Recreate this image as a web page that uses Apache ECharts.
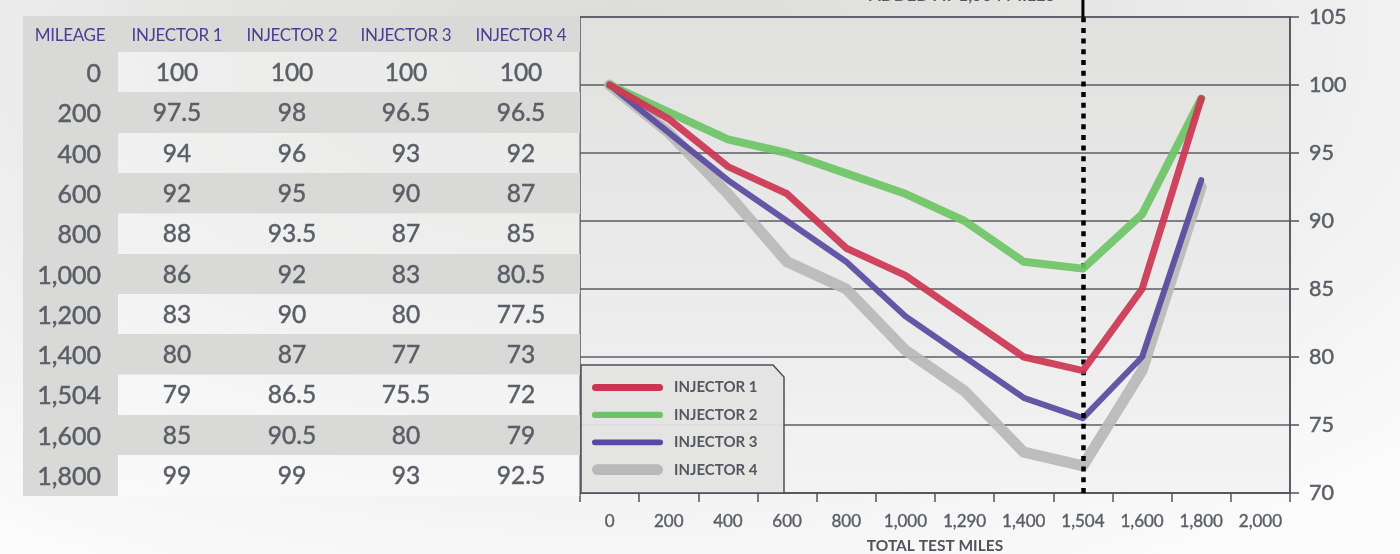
<!DOCTYPE html>
<html>
<head>
<meta charset="utf-8">
<script src="https://cdn.jsdelivr.net/npm/echarts@6/dist/echarts.min.js"></script>
<style>
  html, body { margin:0; padding:0; }
  body {
    width:1400px; height:554px; overflow:hidden; position:relative;
    background: radial-gradient(ellipse 1100px 600px at 620px 40px, #dcdddb 0%, #e3e4e2 35%, #f1f1f1 70%, #fbfbfb 100%);
    font-family: Lato, "Noto Sans", sans-serif;
  }
  #chart { position:absolute; left:0; top:0; width:1400px; height:554px; }
  #table { position:absolute; left:0; top:0; width:600px; height:554px; pointer-events:none; }
  .cell { position:absolute; box-sizing:border-box; }
  .txt { position:absolute; white-space:nowrap; }
  .num { -webkit-text-stroke: 0.5px #5a5f66; }
</style>
</head>
<body>
<div id="chart"></div>
<div id="table"></div>
<script>
// ---- data ----
const xLabels = ['0','200','400','600','800','1,000','1,290','1,400','1,504','1,600','1,800','2,000'];
const mileage = ['0','200','400','600','800','1,000','1,200','1,400','1,504','1,600','1,800'];
const injector1 = [100, 97.5, 94, 92, 88, 86, 83, 80, 79, 85, 99];
const injector2 = [100, 98, 96, 95, 93.5, 92, 90, 87, 86.5, 90.5, 99];
const injector3 = [100, 96.5, 93, 90, 87, 83, 80, 77, 75.5, 80, 93];
const injector4 = [100, 96.5, 92, 87, 85, 80.5, 77.5, 73, 72, 79, 92.5];
const seriesNames = ['INJECTOR 1','INJECTOR 2','INJECTOR 3','INJECTOR 4'];
const tableHeaders = ['MILEAGE','INJECTOR 1','INJECTOR 2','INJECTOR 3','INJECTOR 4'];
const markerMile = '1,504';
const markerText = 'ADDED AT 1,504 MILES';
const yAxisTitle = 'INJECTOR FLOW';
const xAxisTitle = 'TOTAL TEST MILES';
const yMin = 70, yMax = 105, yStep = 5;

// ---- table (HTML) ----
(function buildTable(){
  const t = document.getElementById('table');
  const left = 23, right = 580, mileRight = 118, headTop = 16, headH = 36, rowH = 40.3;
  const colCenters = [177, 292, 406, 521];
  const grey = '#d9d9d7';
  const cols = [injector1, injector2, injector3, injector4];
  let html = '';
  html += `<div class="cell" style="left:${left}px;top:${headTop}px;width:${right-left}px;height:${headH}px;background:${grey}"></div>`;
  const headCenters = [70].concat(colCenters);
  tableHeaders.forEach((h,i)=>{
    html += `<div class="txt" style="left:${headCenters[i]-60}px;width:120px;text-align:center;top:${headTop}px;line-height:${headH+1}px;font-size:17px;color:#4b3d92;letter-spacing:-0.3px">${h}</div>`;
  });
  mileage.forEach((m,r)=>{
    const top = headTop + headH + r*rowH;
    html += `<div class="cell" style="left:${left}px;top:${top}px;width:${mileRight-left}px;height:${rowH+0.5}px;background:${grey}"></div>`;
    const bg = (r%2===1) ? grey : 'rgba(255,255,255,0.35)';
    html += `<div class="cell" style="left:${mileRight}px;top:${top}px;width:${right-mileRight}px;height:${rowH+0.5}px;background:${bg}"></div>`;
    html += `<div class="txt num" style="left:0px;width:101px;text-align:right;top:${top}px;line-height:${rowH}px;font-size:25px;color:#5a5f66">${m}</div>`;
    cols.forEach((c,ci)=>{
      html += `<div class="txt num" style="left:${colCenters[ci]-60}px;width:120px;text-align:center;top:${top}px;line-height:${rowH}px;font-size:24.5px;color:#5a5f66">${c[r]}</div>`;
    });
  });
  t.innerHTML = html;
})();

// ---- chart ----
const colors = ['#cc3551', '#6cc465', '#5a4a9f', '#b8b9b9'];
const widths = [7, 8, 6, 11];
const zs = [6, 5, 4, 3];
const datas = [injector1, injector2, injector3, injector4];
function pill(h){
  const w = 71, r = h/2;
  return `path://M${r},0H${w-r}A${r},${r},0,0,1,${w-r},${h}H${r}A${r},${r},0,0,1,${r},0Z`;
}
const iconHeights = [7, 6.3, 5.7, 10.7];

const chart = echarts.init(document.getElementById('chart'), null, {renderer:'canvas'});
const axisColor = '#51545b';
const labelColor = '#5a5f66';
const option = {
  animation: false,
  backgroundColor: 'transparent',
  textStyle: { fontFamily: 'Lato, "Noto Sans", sans-serif' },
  grid: {
    left: 580, right: 110, top: 17, bottom: 61,
    outerBoundsMode: 'none',
    containLabel: false,
    show: true,
    backgroundColor: new echarts.graphic.LinearGradient(0,0,0,1,[
      {offset:0, color:'#e0e1df'}, {offset:1, color:'#f3f3f3'}
    ]),
    borderColor: axisColor, borderWidth: 1.5
  },
  legend: {
    orient: 'vertical',
    left: 587, top: 375,
    itemWidth: 71, itemHeight: 11, itemGap: 12.4,
    symbolKeepAspect: true,
    itemStyle: { borderWidth: 0 },
    textStyle: { fontSize: 15, color: '#53575f', fontWeight: 'bold', padding: [0,0,0,6] },
    data: seriesNames.map((n,i)=>({ name:n, icon: pill(iconHeights[i]) })),
    z: 20
  },
  xAxis: {
    type: 'category',
    data: xLabels,
    boundaryGap: true,
    axisLine: { lineStyle: { color: axisColor, width: 1.5 } },
    axisTick: { show: true, length: 9, lineStyle: { color: axisColor, width: 1.5 } },
    axisLabel: { interval: 0, fontSize: 17, color: labelColor, margin: 20, textBorderColor: labelColor, textBorderWidth: 0.4 },
    splitLine: { show: false },
    name: xAxisTitle,
    nameLocation: 'middle',
    nameGap: 45,
    nameTextStyle: { fontSize: 15.5, color: '#50545b', fontWeight: 'bold' }
  },
  yAxis: {
    type: 'value',
    position: 'right',
    min: yMin, max: yMax, interval: yStep,
    axisLine: { show: true, lineStyle: { color: axisColor, width: 1.5 } },
    axisTick: { show: true, length: 9, lineStyle: { color: axisColor, width: 1.5 } },
    axisLabel: { fontSize: 21.5, color: labelColor, margin: 19, textBorderColor: labelColor, textBorderWidth: 0.5 },
    splitLine: { show: true, lineStyle: { color: '#5a5d64', width: 1.5 } }
  },
  series: seriesNames.map((n,i)=>({
    name: n,
    type: 'line',
    data: datas[i],
    symbol: 'none',
    z: zs[i],
    itemStyle: { color: colors[i] },
    lineStyle: { color: colors[i], width: widths[i], cap: 'round', join: 'round', opacity: 0.92 }
  })).concat([{
    name: 'marker',
    type: 'line',
    data: [],
    z: 10,
    markLine: {
      silent: true,
      symbol: ['none','none'],
      label: { show: false },
      lineStyle: { color: '#000', width: 4.5, type: [5, 5.7], cap: 'butt' },
      data: [{ xAxis: markerMile }]
    }
  }])
};
chart.setOption(option);

const mx = chart.convertToPixel({xAxisIndex:0}, markerMile);
const gridTop = chart.convertToPixel({yAxisIndex:0}, yMax);
chart.setOption({
  graphic: [
    { type:'polygon', z: 15,
      shape: { points: [[581,365],[773,365],[784,377],[784,493],[581,493]] },
      style: { fill: 'rgba(227,228,226,0.93)', stroke: '#4d5058', lineWidth: 1.5 } },
    { type:'line', z: 12,
      shape: { x1: mx, y1: 0, x2: mx, y2: gridTop },
      style: { stroke: '#000', lineWidth: 3 } },
    { type:'text', z: 12, x: mx - 28, y: 4,
      style: { text: markerText, align: 'right', verticalAlign: 'bottom', fontSize: 17, fontWeight: 'bold', fill: '#55595f', fontFamily: 'Lato, sans-serif' } },
    { type:'text', z: 12, x: 1376, y: 3,
      style: { text: yAxisTitle, align: 'right', verticalAlign: 'bottom', fontSize: 14.5, fontWeight: 'bold', fill: '#55595f', fontFamily: 'Lato, sans-serif' } }
  ]
});
</script>
</body>
</html>
